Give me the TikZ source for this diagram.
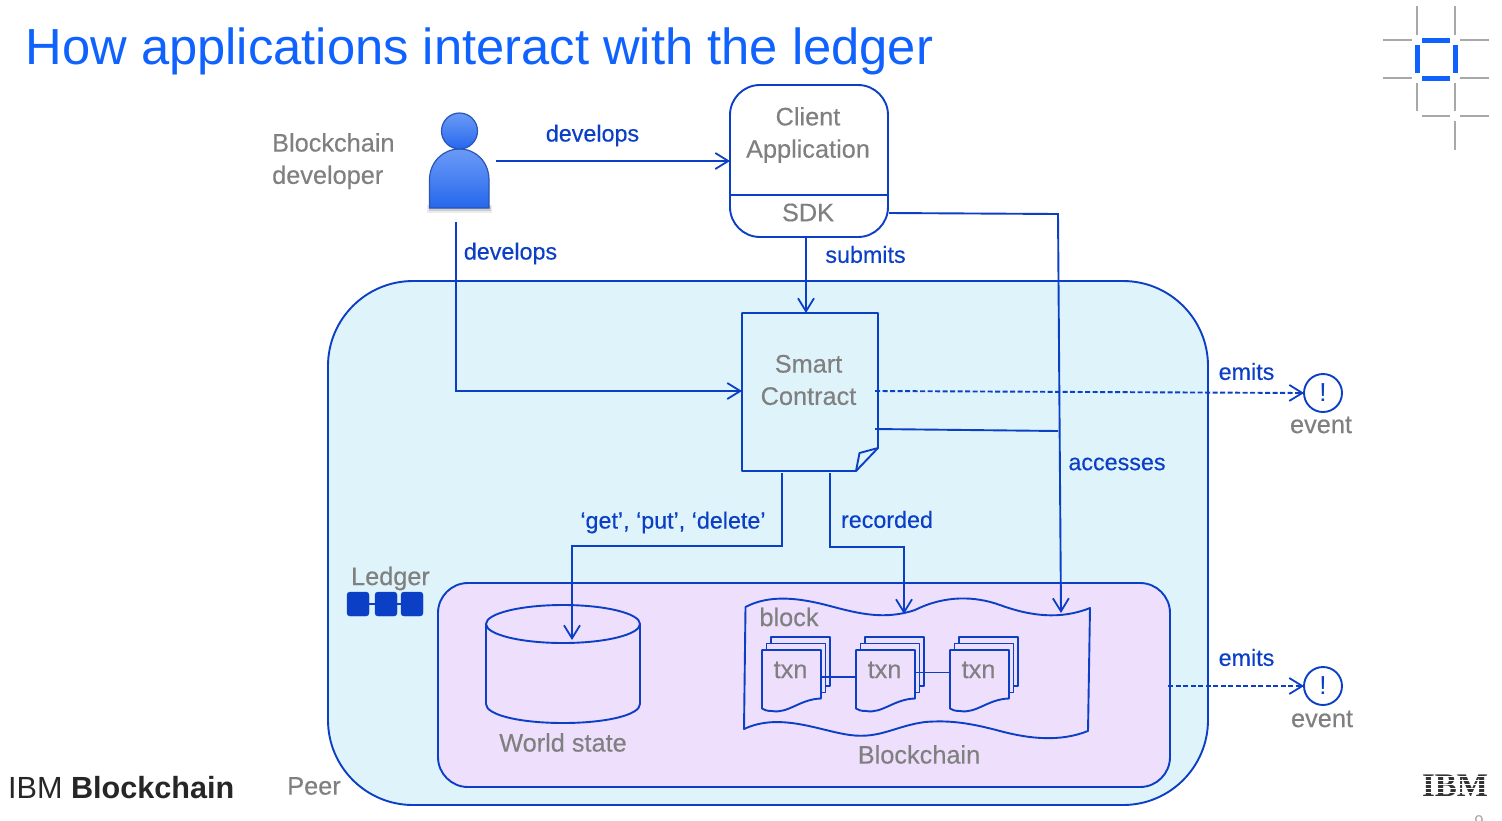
\documentclass[tikz,border=0pt]{standalone}
\usepackage{fontspec}
\setmainfont{Liberation Sans}
\newfontfamily\serifibm{Liberation Serif}
\newfontfamily\labfont[RawFeature={embolden=0.3}]{Liberation Sans}
\usetikzlibrary{arrows.meta,calc,shapes.geometric}
\definecolor{linkblue}{HTML}{0B3FC6}
\definecolor{titleblue}{HTML}{0F62FE}
\definecolor{greytext}{HTML}{808080}
\definecolor{peerfill}{HTML}{DFF3FB}
\definecolor{ledgerfill}{HTML}{EEDFFD}
\definecolor{logogrey}{HTML}{A8A8A8}
\definecolor{persontop}{HTML}{6A9AF6}
\definecolor{personmid}{HTML}{4A82F2}
\definecolor{personbot}{HTML}{2566EC}
\definecolor{personedge}{HTML}{2A55B5}
\newcommand{\fs}[1]{\fontsize{#1}{#1}\selectfont}
\tikzset{
  x=1pt,y=-1pt,
  line/.style={draw=linkblue,line width=1.9pt},
  conn/.style={line,-{Straight Barb[length=13pt,width=16pt,line width=1.8pt]}},
  dashconn/.style={conn,dash pattern=on 5pt off 2.5pt},
  box/.style={line,anchor=north west,outer sep=0pt,inner sep=0pt},
  greylab/.style={text=greytext,font=\labfont\fs{25.3},inner sep=0pt,align=center},
  bluelab/.style={text=linkblue,font=\labfont\fs{23.3},inner sep=0pt},
  event/.style={circle,line,fill=white,minimum size=38pt,inner sep=0pt,outer sep=0pt,text=linkblue,font=\fs{26}},
  lgrey/.style={draw=logogrey,line width=2pt},
  lblue/.style={draw=titleblue,line width=5pt},
  ledgerblock/.style={draw=linkblue,fill=linkblue,rounded corners=3pt,minimum width=22pt,minimum height=24pt,inner sep=0pt,outer sep=0pt,anchor=north west},
  txnpage/.style={line,fill=ledgerfill,line join=round},
}
% one stacked transaction: #1 node name, #2 left x, #3 top y of the front page
\newcommand{\txnstack}[3]{%
  \foreach \dx/\dy in {9.3/-13,4.5/-6.5}{%
    \path[txnpage] ({#2+\dx},{#3+\dy}) rectangle ({#2+\dx+59},{#3+\dy+49});
  }%
  \path[txnpage] (#2,#3) -- ({#2+59},#3) -- ({#2+59},{#3+48.5})
     .. controls ({#2+38},{#3+49}) and ({#2+26},{#3+64}) .. ({#2+10},{#3+61})
     .. controls ({#2+5},{#3+61}) and ({#2+2},{#3+60}) .. (#2,{#3+58.5}) -- cycle;
  \node[greylab,anchor=center] (#1) at ({#2+28.5},{#3+20}) {txn};
}
\begin{document}
\begin{tikzpicture}
\useasboundingbox[fill=white] (0,0) rectangle (1502,820);

% title
\node[anchor=west,inner sep=0pt,text=titleblue,font=\fs{50.7}] (title) at (25.5,51.5) {How applications interact with the ledger};

% corner logo
\draw[lgrey] (1417,6)--(1417,35) (1417,83)--(1417,111) (1455,6)--(1455,35) (1455,83)--(1455,111) (1455,121)--(1455,150)
  (1383,40)--(1412,40) (1460,40)--(1489,40) (1383,78)--(1412,78) (1460,78)--(1489,78)
  (1422,116)--(1450,116) (1460,116)--(1489,116);
\draw[lblue] (1422,40)--(1450,40) (1422,78)--(1450,78) (1417,45)--(1417,73) (1455,45)--(1455,73);

% peer and ledger containers
\node[box,fill=peerfill,rounded corners=85pt,minimum width=880pt,minimum height=524pt] (peer) at (328,281) {};
\node[box,fill=ledgerfill,rounded corners=30pt,minimum width=732pt,minimum height=204pt] (ledger) at (438,583) {};
\node[greylab,anchor=center] (peerlabel) at (314,786) {Peer};
\node[greylab,anchor=center] (ledgerlabel) at (390.5,578.5) {Ledger};

% ledger icon
\node[ledgerblock] (lb1) at (347,592) {};
\node[ledgerblock] (lb2) at (375,592) {};
\node[ledgerblock] (lb3) at (401,592) {};
\draw[line] (lb1) -- (lb2);
\draw[line] (lb2) -- (lb3);

% developer
\node[greylab,align=left,anchor=north west] (devlabel) at (272,133) {Blockchain\\[7pt]developer};
\fill[black,opacity=.08] (427,205) rectangle (492,213);
\fill[black,opacity=.12] (428.5,206) rectangle (490.5,211);
\path[top color=persontop,bottom color=personbot,middle color=personmid,draw=personedge,line width=1.2pt]
  (429.5,208) -- (429.5,180) .. controls (429.5,162) and (443,149) .. (459.5,149)
  .. controls (476,149) and (489,162) .. (489,180) -- (489,208) -- cycle;
\node[circle,minimum size=36pt,inner sep=0pt,outer sep=0pt,top color=persontop,bottom color=personbot,middle color=personmid,draw=personedge,line width=1.2pt] (personhead) at (459.5,131) {};
\node[inner sep=0pt,outer sep=0pt,minimum width=60pt,minimum height=60pt] (personbody) at (459.5,179) {};

% client application
\node[box,fill=none,rounded corners=30pt,minimum width=158pt,minimum height=152pt] (client) at (730,85) {};
\draw[line] (client.west |- 0,195) -- (client.east |- 0,195);
\node[greylab,anchor=center] (clientlabel) at (808,135) {Client\\[7pt]Application};
\node[greylab,anchor=center] (sdk) at (808,212.5) {SDK};

% smart contract
\path[line,fill=peerfill,line join=round] (742,313) -- (878,313) -- (878,448) -- (856,471) -- (742,471) -- cycle;
\path[line,line join=round] (856,471) -- (859.5,453) -- (878,448);
\node[inner sep=0pt,outer sep=0pt,minimum width=136pt,minimum height=158pt] (smart) at (810,392) {};
\node[greylab,anchor=center] (smartlabel) at (808.5,380) {Smart\\[7pt]Contract};

% world state
\path[line,fill=ledgerfill] (486,624) -- (486,704) .. controls (486,715) and (520,723) .. (563,723)
  .. controls (606,723) and (640,715) .. (640,704) -- (640,624);
\node[line,fill=ledgerfill,ellipse,minimum width=154pt,minimum height=38pt,inner sep=0pt,outer sep=0pt] (world) at (563,624) {};
\node[greylab,anchor=center] (worldlabel) at (563,742.5) {World state};

% blockchain
\path[line,line join=round] (745.5,607)
  .. controls (770,594) and (800,598) .. (830,606)
  .. controls (860,614) and (885,620) .. (915,610)
  .. controls (945,595) and (975,596) .. (1000,605)
  .. controls (1030,616) and (1060,620) .. (1090,608)
  -- (1088,731)
  .. controls (1060,742) and (1030,739) .. (1000,731)
  .. controls (970,723) and (950,720) .. (925,722)
  .. controls (895,726) and (880,739) .. (850,735)
  .. controls (820,731) and (780,712) .. (744,729) -- cycle;
\node[greylab,anchor=center] (blocklabel) at (789,617) {block};
\node[greylab,anchor=center] (chainlabel) at (919,754.5) {Blockchain};

\txnstack{t1}{762}{650}
\txnstack{t2}{856}{650}
\txnstack{t3}{950}{650}
\coordinate (t1r) at (821,677);
\coordinate (t2l) at (856,677);
\coordinate (t2r) at (915,672.5);
\coordinate (t3l) at (950,672.5);
\draw[line] (t1r) -- (t2l);
\draw[line] (t2r) -- (t3l);

% events
\node[event] (ev1) at (1323,393) {!};
\node[event] (ev2) at (1323,686) {!};
\node[greylab,anchor=center] (ev1lab) at (1321,425) {event};
\node[greylab,anchor=center] (ev2lab) at (1322,719) {event};

% connectors
\coordinate (devR) at (496,161);
\coordinate (devD) at (456,222);
\coordinate (devC) at (456,391);
\coordinate (sdkD) at (806,238);
\coordinate (sdkR) at (889,213);
\coordinate (sdkC) at (1058,214);
\coordinate (chainIn) at (1061,613);
\coordinate (scOut) at (875,429);
\coordinate (scJoin) at (1058,431);
\coordinate (scDash) at (875,391);
\coordinate (ledgerDash) at (1168,686);
\coordinate (wsA) at (782,473);
\coordinate (wsB) at (782,546);
\coordinate (wsC) at (572,546);
\coordinate (wsD) at (572,640);
\coordinate (rcA) at (830,473);
\coordinate (rcB) at (830,547);
\coordinate (rcC) at (904,547);
\coordinate (rcD) at (904,614);
\draw[conn] (devR) -- (client.west |- devR);
\draw[conn] (devD) -- (devC) -- (smart.west |- devC);
\draw[conn] (sdkD) -- (smart.north -| sdkD);
\draw[conn] (sdkR) -- (sdkC) -- (chainIn);
\draw[line] (scOut) -- (scJoin);
\draw[dashconn] (scDash) -- (ev1.west);
\draw[dashconn] (ledgerDash) -- (ev2.west);
\draw[conn] (wsA) -- (wsB) -- (wsC) -- (wsD);
\draw[conn] (rcA) -- (rcB) -- (rcC) -- (rcD);

% connector labels
\node[bluelab,anchor=center] (l1) at (592.5,135.5) {develops};
\node[bluelab,anchor=center] (l2) at (510.5,253.5) {develops};
\node[bluelab,anchor=center] (l3) at (865.5,254.5) {submits};
\node[bluelab,anchor=center] (l4) at (1117,464) {accesses};
\node[bluelab,anchor=center] (l5) at (673,522.5) {‘get’, ‘put’, ‘delete’};
\node[bluelab,anchor=center] (l6) at (887,519.5) {recorded};
\node[bluelab,anchor=center] (l7) at (1246.5,371.5) {emits};
\node[bluelab,anchor=center] (l8) at (1246.5,657.5) {emits};

% footer
\node[anchor=west,inner sep=0pt,text=black!85,font=\fs{30.6}] (brand) at (8,787.5) {IBM \textbf{Blockchain}};
\node[anchor=center,inner sep=0pt,text=black!80,font=\serifibm\bfseries\fs{33}] (ibm) at (1455,786) {IBM};
\foreach \yy in {776.5,780.5,784.5,788.5,792.5,796}
  \draw[white,line width=1pt] (1420,\yy) -- (1492,\yy);
\node[anchor=center,inner sep=0pt,text=logogrey,font=\fs{17}] (pagenum) at (1479,822) {9};
\end{tikzpicture}
\end{document}
